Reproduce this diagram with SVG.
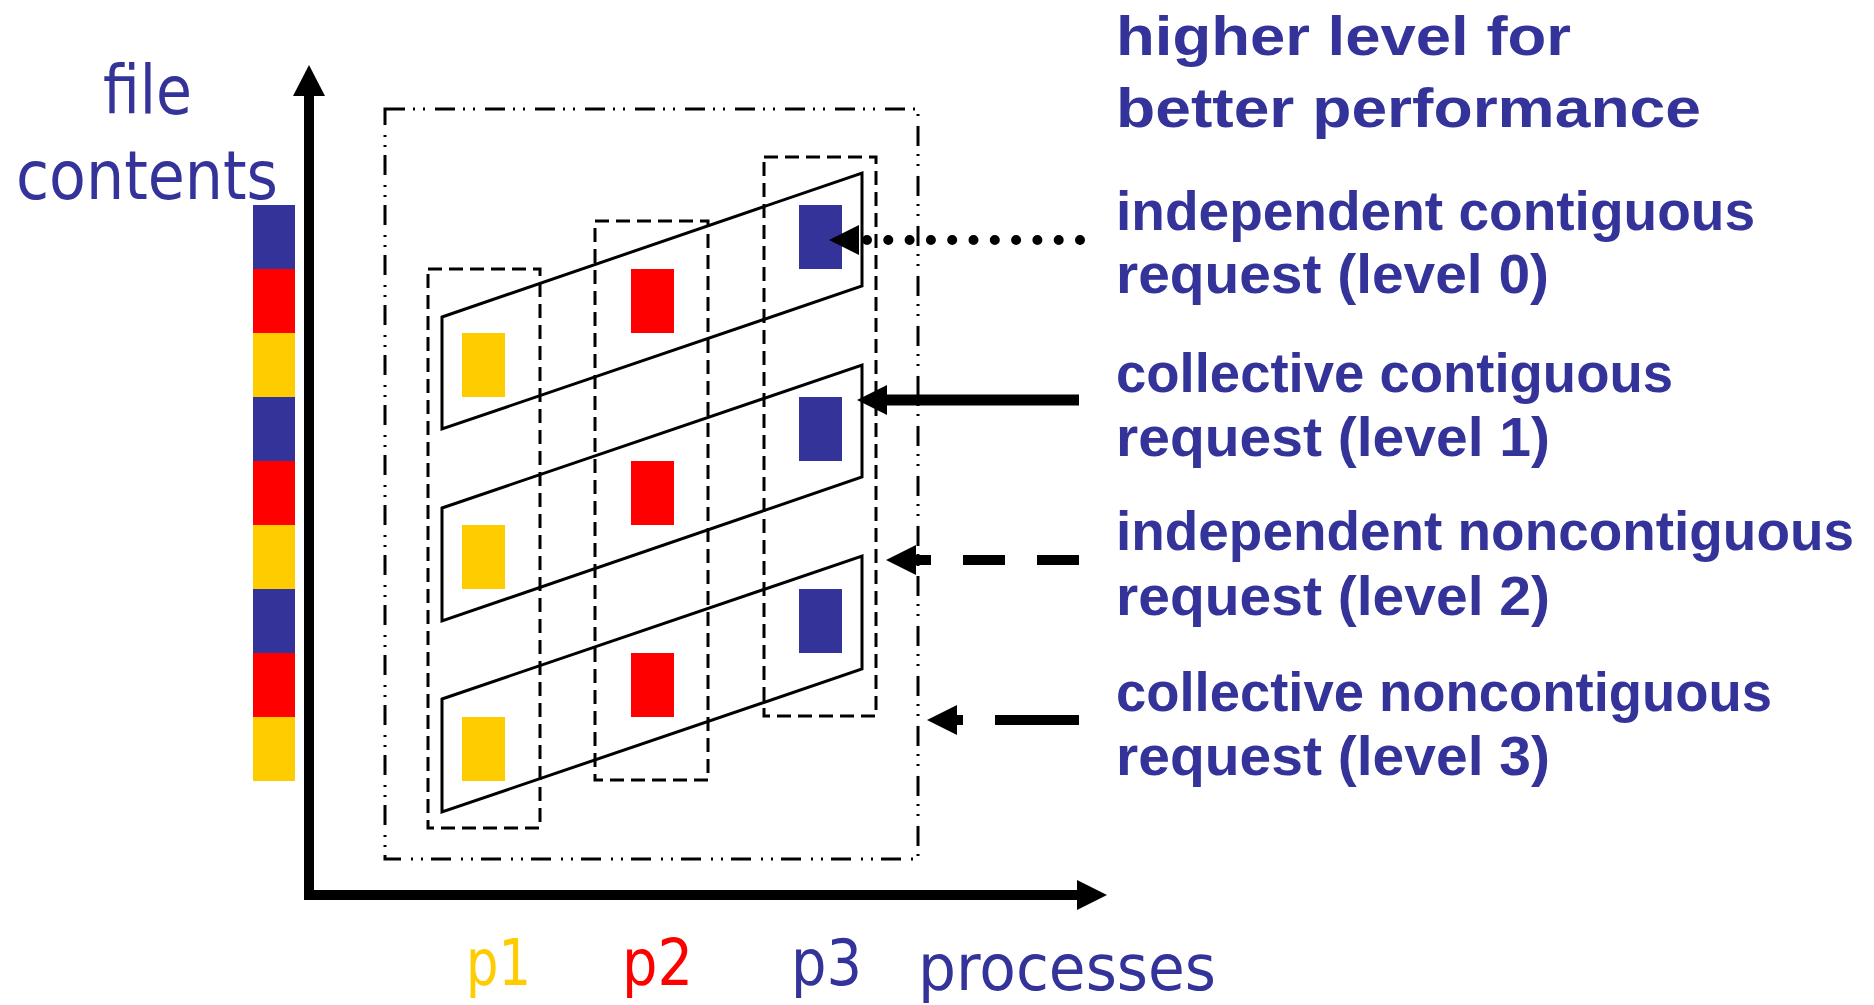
<svg xmlns="http://www.w3.org/2000/svg" width="1874" height="1005" viewBox="0 0 1874 1005">
<style>
.lbl{font-family:"DejaVu Sans","Liberation Sans",sans-serif;fill:#333399}
.big{font-size:67px}
.bold{font-family:"Liberation Sans","DejaVu Sans",sans-serif;font-size:55px;font-weight:bold}
.proc{font-size:64px}
.blue{fill:#333399}
.red{fill:#FF0000}
.yel{fill:#FFCC00}
.dashbox{fill:none;stroke:#000;stroke-width:3;stroke-dasharray:14 7}
.ddbox{fill:none;stroke:#000;stroke-width:3;stroke-dasharray:20 8 2 8 2 10}
.para{fill:none;stroke:#000;stroke-width:3}
.axis{stroke:#000;stroke-width:10;fill:none}
.conn{stroke:#000;fill:none}
</style>
<defs>
<marker id="ah" markerUnits="userSpaceOnUse" viewBox="0 0 30 30" refX="0" refY="15" markerWidth="30" markerHeight="30" orient="auto">
<path d="M0,0 L30,15 L0,30 z" fill="#000"/>
</marker>
<marker id="axh" markerUnits="userSpaceOnUse" viewBox="0 0 31 32" refX="0" refY="16" markerWidth="31" markerHeight="32" orient="auto">
<path d="M0,0 L31,16 L0,32 z" fill="#000"/>
</marker>
</defs>
<rect width="1874" height="1005" fill="#fff"/>

<g id="file-strip">
<rect class="blue" x="253" y="205" width="42" height="64"/>
<rect class="red" x="253" y="269" width="42" height="64"/>
<rect class="yel" x="253" y="333" width="42" height="64"/>
<rect class="blue" x="253" y="397" width="42" height="64"/>
<rect class="red" x="253" y="461" width="42" height="64"/>
<rect class="yel" x="253" y="525" width="42" height="64"/>
<rect class="blue" x="253" y="589" width="42" height="64"/>
<rect class="red" x="253" y="653" width="42" height="64"/>
<rect class="yel" x="253" y="717" width="42" height="64"/>
</g>

<g id="axes">
<line class="axis" x1="309" y1="900" x2="309" y2="96" marker-end="url(#axh)"/>
<line class="axis" x1="304" y1="895" x2="1077" y2="895" marker-end="url(#ah)"/>
</g>

<g id="level3-box">
<rect class="ddbox" x="385" y="109" width="533" height="750"/>
</g>

<g id="p1-column">
<rect class="dashbox" x="428" y="269" width="112" height="559"/>
</g>
<g id="p2-column">
<rect class="dashbox" x="595" y="221" width="113" height="559"/>
</g>
<g id="p3-column">
<rect class="dashbox" x="764" y="157" width="112" height="559"/>
</g>

<g id="request-1">
<polygon class="para" points="442,317 862,173 862,286 442,429"/>
</g>
<g id="request-2">
<polygon class="para" points="442,508 862,365 862,477 442,621"/>
</g>
<g id="request-3">
<polygon class="para" points="442,699 862,556 862,669 442,812"/>
</g>

<g id="blocks">
<rect class="blue" x="799" y="205" width="43" height="64"/>
<rect class="red" x="631" y="269" width="43" height="64"/>
<rect class="yel" x="462" y="333" width="43" height="64"/>
<rect class="blue" x="799" y="397" width="43" height="64"/>
<rect class="red" x="631" y="461" width="43" height="64"/>
<rect class="yel" x="462" y="525" width="43" height="64"/>
<rect class="blue" x="799" y="589" width="43" height="64"/>
<rect class="red" x="631" y="653" width="43" height="64"/>
<rect class="yel" x="462" y="717" width="43" height="64"/>
</g>

<g id="connectors">
<line class="conn" x1="1080" y1="240" x2="859" y2="240" stroke-width="10" stroke-linecap="round" stroke-dasharray="0 21.3" marker-end="url(#ah)"/>
<line class="conn" x1="1079" y1="400" x2="887" y2="400" stroke-width="11" marker-end="url(#ah)"/>
<line class="conn" x1="1079" y1="560" x2="916" y2="560" stroke-width="10" stroke-dasharray="42 32" marker-end="url(#ah)"/>
<line class="conn" x1="1079" y1="720" x2="957" y2="720" stroke-width="10" stroke-dasharray="84 32" marker-end="url(#ah)"/>
</g>

<g id="labels-left">
<text class="lbl big" x="103" y="114" textLength="89" lengthAdjust="spacingAndGlyphs">file</text>
<text class="lbl big" x="16" y="199" textLength="262" lengthAdjust="spacingAndGlyphs">contents</text>
</g>

<g id="labels-bottom">
<text class="lbl proc" x="466" y="985" textLength="65" lengthAdjust="spacingAndGlyphs" style="fill:#FFCC00">p1</text>
<text class="lbl proc" x="622" y="985" textLength="71" lengthAdjust="spacingAndGlyphs" style="fill:#FF0000">p2</text>
<text class="lbl proc" x="791" y="985" textLength="71" lengthAdjust="spacingAndGlyphs">p3</text>
<text class="lbl proc" x="918" y="990" textLength="298" lengthAdjust="spacingAndGlyphs">processes</text>
</g>

<g id="labels-right">
<text class="lbl bold" x="1116" y="55" textLength="455" lengthAdjust="spacingAndGlyphs">higher level for</text>
<text class="lbl bold" x="1116" y="127" textLength="585" lengthAdjust="spacingAndGlyphs">better performance</text>
<text class="lbl bold" x="1116" y="230" textLength="639" lengthAdjust="spacingAndGlyphs">independent contiguous</text>
<text class="lbl bold" x="1116" y="293" textLength="433" lengthAdjust="spacingAndGlyphs">request (level 0)</text>
<text class="lbl bold" x="1116" y="392" textLength="557" lengthAdjust="spacingAndGlyphs">collective contiguous</text>
<text class="lbl bold" x="1116" y="456" textLength="434" lengthAdjust="spacingAndGlyphs">request (level 1)</text>
<text class="lbl bold" x="1116" y="550" textLength="738" lengthAdjust="spacingAndGlyphs">independent noncontiguous</text>
<text class="lbl bold" x="1116" y="615" textLength="434" lengthAdjust="spacingAndGlyphs">request (level 2)</text>
<text class="lbl bold" x="1116" y="711" textLength="656" lengthAdjust="spacingAndGlyphs">collective noncontiguous</text>
<text class="lbl bold" x="1116" y="775" textLength="434" lengthAdjust="spacingAndGlyphs">request (level 3)</text>
</g>
</svg>
